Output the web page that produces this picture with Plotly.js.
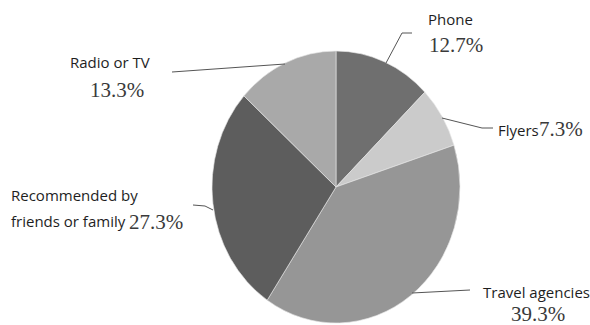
<!DOCTYPE html>
<html>
<head>
<meta charset="utf-8">
<script src="https://cdn.plot.ly/plotly-3.0.1.min.js"></script>
<style>
  html, body { margin: 0; padding: 0; background: #ffffff; }
  #chart { width: 590px; height: 325px; }
</style>
</head>
<body>
<div id="chart"></div>
<script>
// ---- data ----
const categories = ["Phone", "Flyers", "Travel agencies", "Recommended by friends or family", "Radio or TV"];
const values = [12.7, 7.3, 39.3, 27.3, 13.3];
const sliceColors = ["#6f6f6f", "#cbcbcb", "#969696", "#5d5d5d", "#a9a9a9"];
const percentLabels = values.map(v => v.toFixed(1) + "%");

// ---- layout helpers (pixel -> paper) ----
const W = 590, H = 325;
const px = x => x / W;
const py = y => 1 - y / H;

// pie geometry
const cx = 336, cy = 187, r = 124, stretchY = 136 / 124;

const nameFont = { family: "Open Sans, Noto Sans, sans-serif", size: 15, color: "#1e1e1e" };
const pctFont = { family: "Liberation Serif, Times New Roman, serif", size: 21, color: "#3a3a3a" };

function ann(text, x, y, font) {
  return { text: text, xref: "paper", yref: "paper", x: px(x), y: py(y),
           xanchor: "left", yanchor: "middle", showarrow: false, font: font };
}

const annotations = [
  ann(categories[0], 426, 19, nameFont),
  ann(percentLabels[0], 427, 45, pctFont),
  ann(categories[1], 496, 130, nameFont),
  ann(percentLabels[1], 537, 129, pctFont),
  ann(categories[2], 481, 292, nameFont),
  ann(percentLabels[2], 509, 314, pctFont),
  ann(categories[4], 68, 62, nameFont),
  ann(percentLabels[4], 88, 90, pctFont),
  ann("Recommended by", 9, 195, nameFont),
  ann("friends or family", 9, 221, nameFont),
  ann(percentLabels[3], 127, 222, pctFont)
];

function path(pts) {
  return pts.map((p, i) => (i ? "L" : "M") + px(p[0]) + "," + py(p[1])).join(" ");
}
const lineStyle = { color: "#555555", width: 1 };
const leaders = [
  [[386, 63], [402, 33], [412, 33]],
  [[442, 118], [482, 128], [493, 128]],
  [[412, 293], [470, 290]],
  [[172, 72], [285, 64]],
  [[193, 205], [205, 206], [213, 210]]
];
const shapes = leaders.map(l => ({ type: "path", xref: "paper", yref: "paper", path: path(l), line: lineStyle }));

const trace = {
  type: "pie",
  labels: categories,
  values: values,
  sort: false,
  direction: "clockwise",
  rotation: 0,
  textinfo: "none",
  hoverinfo: "label+percent",
  marker: { colors: sliceColors, line: { color: "#e6e6e6", width: 0.6 } },
  domain: { x: [px(cx - r), px(cx + r)], y: [py(cy + r), py(cy - r)] },
  showlegend: false
};

const layout = {
  width: W, height: H,
  margin: { l: 0, r: 0, t: 0, b: 0 },
  paper_bgcolor: "#ffffff",
  showlegend: false,
  annotations: annotations,
  shapes: shapes
};

Plotly.newPlot("chart", [trace], layout, { displayModeBar: false, staticPlot: true }).then(gd => {
  const layer = gd.querySelector(".pielayer");
  if (layer) {
    layer.setAttribute("transform", `translate(0,${cy}) scale(1,${stretchY}) translate(0,${-cy})`);
  }
});
</script>
</body>
</html>
